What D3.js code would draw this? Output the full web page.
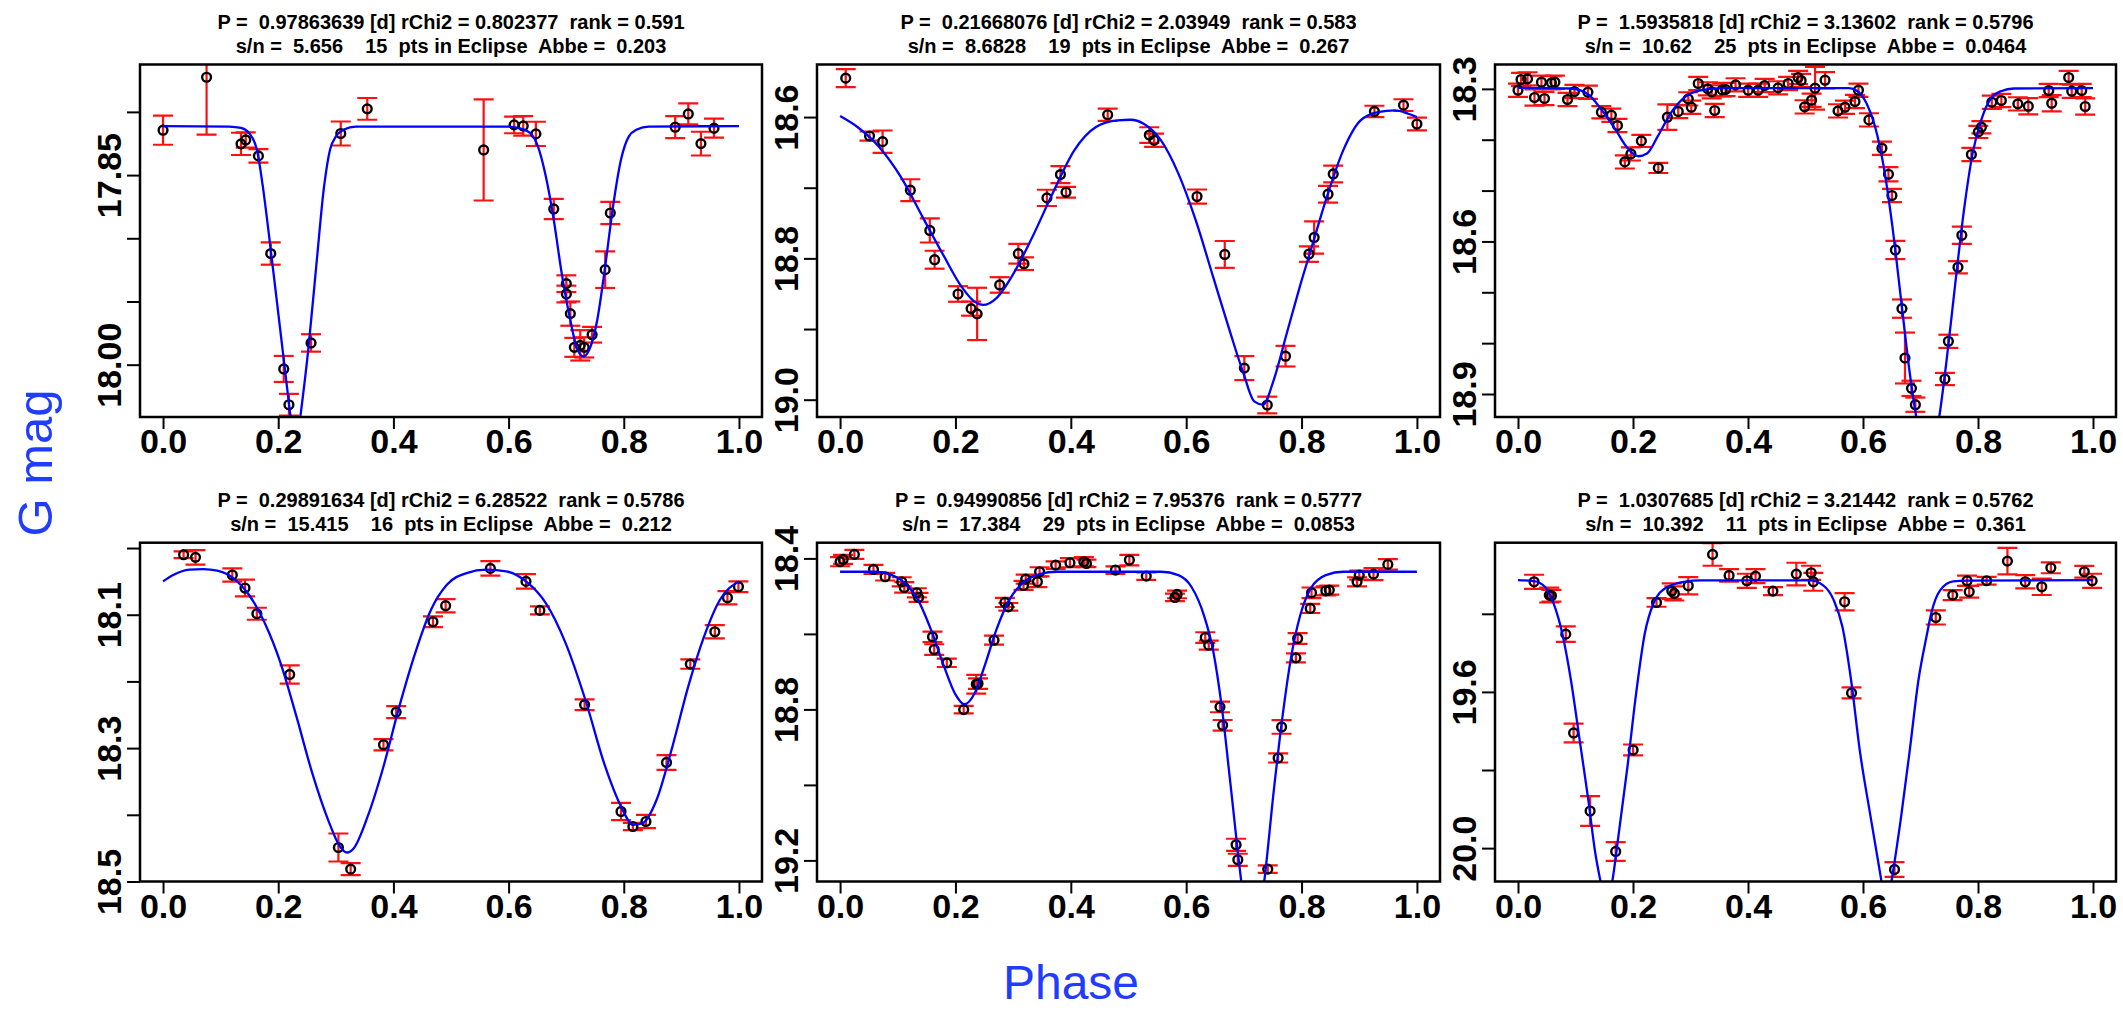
<!DOCTYPE html>
<html><head><meta charset="utf-8">
<script src="https://cdn.jsdelivr.net/npm/d3@7"></script>
<style>
body{margin:0;background:#fff;}
svg{display:block;}
text{font-family:"Liberation Sans",Arial,Helvetica,sans-serif;}
</style>
</head><body>
<svg id="chart" width="2123" height="1012"></svg>
<script>
// ---------------- DATA ----------------
const xTicks = [0, 0.2, 0.4, 0.6, 0.8, 1.0];
const xLabel = "Phase";
const yLabel = "G mag";

// Panel 1
const title1 = ["P =  0.97863639 [d] rChi2 = 0.802377  rank = 0.591", "s/n =  5.656    15  pts in Eclipse  Abbe =  0.203"];
const yTicks1 = [17.80, 17.85, 17.90, 17.95, 18.00];
const yLabeled1 = [17.85, 18.00];
const yRange1 = [17.7625, 18.0414];
const obs1 = [
 [0.000,17.8145,0.0115],[0.0756,17.7726,0.0454],[0.1354,17.8253,0.0088],[0.1436,17.8222,0.0060],
 [0.1656,17.8348,0.0053],[0.1870,17.9121,0.0088],[0.2096,18.0034,0.0103],[0.2186,18.0317,0.0086],
 [0.2570,17.9828,0.0069],[0.3086,17.8171,0.0095],[0.3546,17.7976,0.0086],[0.5567,17.8301,0.0400],
 [0.6096,17.8103,0.0066],[0.6254,17.8111,0.0077],[0.6474,17.8174,0.0096],[0.6784,17.8768,0.0080],
 [0.7003,17.9359,0.0066],[0.7003,17.9441,0.0066],[0.7072,17.9596,0.0096],[0.7141,17.9863,0.0075],
 [0.7244,17.9847,0.0120],[0.7313,17.9863,0.0080],[0.7450,17.9763,0.0062],[0.7677,17.9248,0.0145],
 [0.7766,17.8800,0.0088],[0.8893,17.8121,0.0087],[0.9120,17.8016,0.0083],[0.9340,17.8251,0.0094],
 [0.9567,17.8129,0.0075]
];
const fit1 = [
 [0.0,17.8113],[0.1148,17.8116],[0.1354,17.8127],[0.1491,17.8166],[0.1629,17.8298],[0.1732,17.8588],
 [0.1835,17.8958],[0.1973,17.9486],[0.2110,18.0013],[0.2213,18.0409],[0.2300,18.0700],[0.2385,18.0409],
 [0.2522,17.9881],[0.2660,17.9222],[0.2797,17.8588],[0.2900,17.8298],[0.3003,17.8193],[0.3141,17.8140],
 [0.3347,17.8116],[0.5959,17.8116],[0.6165,17.8127],[0.6371,17.8166],[0.6509,17.8272],[0.6646,17.8509],
 [0.6784,17.8852],[0.6921,17.9274],[0.7058,17.9617],[0.7196,17.9881],[0.7299,17.9934],[0.7402,17.9881],
 [0.7540,17.9644],[0.7677,17.9222],[0.7814,17.8747],[0.7952,17.8377],[0.8089,17.8193],[0.8227,17.8140],
 [0.8433,17.8116],[1.0,17.8113]
];

// Panel 2
const title2 = ["P =  0.21668076 [d] rChi2 = 2.03949  rank = 0.583", "s/n =  8.6828    19  pts in Eclipse  Abbe =  0.267"];
const yTicks2 = [18.6, 18.7, 18.8, 18.9, 19.0];
const yLabeled2 = [18.6, 18.8, 19.0];
const yRange2 = [18.5256, 19.0245];
const obs2 = [
 [0.0098,18.5449,0.0127],[0.0511,18.6268,0.0064],[0.0737,18.6348,0.0158],[0.1218,18.7035,0.0155],
 [0.1556,18.7605,0.0170],[0.1639,18.8019,0.0127],[0.2045,18.8504,0.0110],[0.2271,18.8711,0.0100],
 [0.2376,18.8786,0.0370],[0.2767,18.8376,0.0110],[0.3090,18.7934,0.0140],[0.3188,18.8075,0.0090],
 [0.3586,18.7144,0.0115],[0.3820,18.6814,0.0120],[0.3917,18.7064,0.0075],[0.4639,18.5967,0.0087],
 [0.5361,18.6254,0.0110],[0.5444,18.6329,0.0094],[0.6188,18.7125,0.0100],[0.6669,18.7944,0.0190],
 [0.7008,18.9553,0.0170],[0.7406,19.0075,0.0118],[0.7722,18.9384,0.0146],[0.8128,18.7939,0.0110],
 [0.8218,18.7704,0.0228],[0.8459,18.7092,0.0118],[0.8549,18.6805,0.0118],[0.9263,18.5920,0.0080],
 [0.9767,18.5831,0.0083],[1.0,18.6099,0.0090]
];
const fit2 = [
 [0.0,18.5986],[0.0301,18.6141],[0.0677,18.6424],[0.1053,18.6847],[0.1429,18.7412],[0.1805,18.7976],
 [0.2105,18.8400],[0.2331,18.8612],[0.2481,18.8659],[0.2707,18.8565],[0.3008,18.8212],[0.3308,18.7741],
 [0.3684,18.7082],[0.4060,18.6471],[0.4436,18.6141],[0.4812,18.6047],[0.5038,18.6038],[0.5263,18.6094],
 [0.5564,18.6329],[0.5865,18.6800],[0.6165,18.7459],[0.6466,18.8259],[0.6767,18.9059],[0.6992,18.9624],
 [0.7180,19.0024],[0.7331,19.0071],[0.7519,18.9718],[0.7744,18.9059],[0.7970,18.8400],[0.8195,18.7788],
 [0.8421,18.7176],[0.8722,18.6471],[0.9023,18.6047],[0.9323,18.5929],[0.9624,18.5906],[0.9850,18.5953],
 [1.0,18.6000]
];

// Panel 3
const title3 = ["P =  1.5935818 [d] rChi2 = 3.13602  rank = 0.5796", "s/n =  10.62    25  pts in Eclipse  Abbe =  0.0464"];
const yTicks3 = [18.3, 18.4, 18.5, 18.6, 18.7, 18.8, 18.9];
const yLabeled3 = [18.3, 18.6, 18.9];
const yRange3 = [18.2521, 18.9452];
const obs3 = [
 [0.0,18.3026,0.013],[0.0053,18.2816,0.013],[0.0166,18.2803,0.013],[0.0287,18.3170,0.016],
 [0.0408,18.2869,0.013],[0.0461,18.3190,0.013],[0.0582,18.2882,0.013],[0.0642,18.2869,0.013],
 [0.0861,18.3210,0.013],[0.0982,18.3052,0.013],[0.1216,18.3066,0.013],[0.1450,18.3459,0.012],
 [0.1624,18.3518,0.013],[0.1730,18.3721,0.013],[0.1858,18.4436,0.013],[0.1964,18.4279,0.013],
 [0.2145,18.4023,0.012],[0.2440,18.4554,0.010],[0.2598,18.3557,0.025],[0.2787,18.3446,0.013],
 [0.2961,18.3197,0.013],[0.3014,18.3361,0.013],[0.3134,18.2895,0.013],[0.3301,18.3000,0.013],
 [0.3369,18.3059,0.013],[0.3421,18.3426,0.013],[0.3550,18.3020,0.013],[0.3610,18.3013,0.013],
 [0.3784,18.2921,0.013],[0.4003,18.3026,0.013],[0.4177,18.3026,0.013],[0.4290,18.2934,0.013],
 [0.4524,18.2980,0.013],[0.4698,18.2895,0.013],[0.4872,18.2777,0.013],[0.4924,18.2836,0.013],
 [0.4985,18.3354,0.013],[0.5106,18.3223,0.013],[0.5166,18.2987,0.042],[0.5340,18.2830,0.016],
 [0.5566,18.3433,0.013],[0.5687,18.3361,0.013],[0.5861,18.3250,0.013],[0.5921,18.3026,0.013],
 [0.6103,18.3610,0.013],[0.6329,18.4167,0.013],[0.6443,18.4679,0.014],[0.6503,18.5098,0.013],
 [0.6563,18.6167,0.018],[0.6677,18.7321,0.018],[0.6730,18.8292,0.050],[0.6843,18.8889,0.015],
 [0.6911,18.9210,0.014],[0.7425,18.8705,0.012],[0.7485,18.7964,0.013],[0.7651,18.6508,0.012],
 [0.7719,18.5879,0.017],[0.7885,18.4292,0.013],[0.8006,18.3846,0.012],[0.8059,18.3754,0.012],
 [0.8240,18.3262,0.013],[0.8406,18.3230,0.013],[0.8693,18.3295,0.013],[0.8875,18.3341,0.016],
 [0.9230,18.3033,0.013],[0.9282,18.3282,0.016],[0.9577,18.2777,0.013],[0.9630,18.3046,0.013],
 [0.9804,18.3033,0.013],[0.9864,18.3348,0.016]
];
const fit3 = [
 [0.0,18.2980],[0.0921,18.2993],[0.1224,18.3111],[0.1450,18.3407],[0.1677,18.3767],[0.1903,18.4161],
 [0.2092,18.4325],[0.2243,18.4272],[0.2432,18.3931],[0.2659,18.3472],[0.2885,18.3177],[0.3187,18.3026],
 [0.3565,18.2987],[0.5755,18.2987],[0.5906,18.3046],[0.6057,18.3275],[0.6208,18.3734],[0.6359,18.4521],
 [0.6511,18.5702],[0.6662,18.7144],[0.6813,18.8587],[0.6926,18.9452],[0.7130,19.0500],[0.7326,18.9452],
 [0.7455,18.8325],[0.7606,18.6816],[0.7757,18.5374],[0.7908,18.4259],[0.8059,18.3603],[0.8210,18.3210],
 [0.8399,18.3046],[0.8625,18.2993],[1.0,18.2987]
];

// Panel 4
const title4 = ["P =  0.29891634 [d] rChi2 = 6.28522  rank = 0.5786", "s/n =  15.415    16  pts in Eclipse  Abbe =  0.212"];
const yTicks4 = [18.0, 18.1, 18.2, 18.3, 18.4, 18.5];
const yLabeled4 = [18.1, 18.3, 18.5];
const yRange4 = [17.992, 18.500];
const obs4 = [
 [0.0357,18.0100,0.0050],[0.0564,18.0140,0.0110],[0.1203,18.0405,0.0100],[0.1423,18.0600,0.0125],
 [0.1629,18.0985,0.0090],[0.2199,18.1895,0.0137],[0.3045,18.4490,0.0210],[0.3258,18.4815,0.0090],
 [0.3828,18.2950,0.0085],[0.4048,18.2460,0.0090],[0.4687,18.1105,0.0080],[0.4907,18.0865,0.0100],
 [0.5684,18.0305,0.0110],[0.6302,18.0500,0.0110],[0.6543,18.0935,0.0060],[0.7320,18.2350,0.0080],
 [0.7952,18.3950,0.0130],[0.8158,18.4175,0.0055],[0.8385,18.4100,0.0100],[0.8742,18.3215,0.0110],
 [0.9155,18.1740,0.0070],[0.9581,18.1255,0.0100],[0.9800,18.0745,0.0100],[0.9991,18.0580,0.0080]
];
const fit4 = [
 [0.0,18.0500],[0.0186,18.0400],[0.0460,18.0325],[0.0701,18.0315],[0.0942,18.0340],[0.1216,18.0450],
 [0.1491,18.0700],[0.1766,18.1125],[0.2041,18.1725],[0.2316,18.2525],[0.2591,18.3375],[0.2866,18.4075],
 [0.3072,18.4475],[0.3189,18.4565],[0.3313,18.4500],[0.3553,18.4025],[0.3828,18.3275],[0.4103,18.2375],
 [0.4378,18.1575],[0.4653,18.0925],[0.4928,18.0550],[0.5271,18.0375],[0.5615,18.0325],[0.5959,18.0350],
 [0.6302,18.0500],[0.6646,18.0825],[0.6990,18.1425],[0.7333,18.2275],[0.7677,18.3275],[0.7952,18.3875],
 [0.8158,18.4150],[0.8330,18.4125],[0.8570,18.3775],[0.8845,18.2975],[0.9120,18.2075],[0.9395,18.1325],
 [0.9670,18.0775],[1.0,18.0500]
];

// Panel 5
const title5 = ["P =  0.94990856 [d] rChi2 = 7.95376  rank = 0.5777", "s/n =  17.384    29  pts in Eclipse  Abbe =  0.0853"];
const yTicks5 = [18.4, 18.6, 18.8, 19.0, 19.2];
const yLabeled5 = [18.4, 18.8, 19.2];
const yRange5 = [18.3584, 19.2559];
const obs5 = [
 [0.0,18.4088,0.012],[0.0053,18.4027,0.012],[0.0248,18.3894,0.012],[0.0579,18.4292,0.012],
 [0.0782,18.4486,0.010],[0.1068,18.4619,0.012],[0.1113,18.4769,0.014],[0.1331,18.4911,0.012],
 [0.1361,18.5034,0.012],[0.1602,18.6078,0.014],[0.1632,18.6414,0.014],[0.1850,18.6767,0.011],
 [0.2143,18.8005,0.010],[0.2361,18.7333,0.025],[0.2391,18.7316,0.014],[0.2669,18.6166,0.012],
 [0.2857,18.5167,0.012],[0.2917,18.5282,0.010],[0.3180,18.4716,0.012],[0.3218,18.4548,0.012],
 [0.3421,18.4619,0.014],[0.3459,18.4354,0.012],[0.3737,18.4177,0.010],[0.3985,18.4115,0.012],
 [0.4226,18.4088,0.012],[0.4271,18.4133,0.010],[0.4774,18.4309,0.010],[0.5015,18.4044,0.014],
 [0.5308,18.4469,0.010],[0.5805,18.5034,0.010],[0.5842,18.4955,0.010],[0.6331,18.6096,0.014],
 [0.6391,18.6299,0.012],[0.6586,18.7935,0.014],[0.6632,18.8421,0.014],[0.6865,19.1586,0.016],
 [0.6895,19.1984,0.016],[0.7414,19.2232,0.010],[0.7594,18.9287,0.012],[0.7654,18.8465,0.018],
 [0.7902,18.6635,0.012],[0.7932,18.6122,0.014],[0.8150,18.5326,0.012],[0.8173,18.4911,0.014],
 [0.8421,18.4858,0.012],[0.8481,18.4840,0.012],[0.8962,18.4619,0.012],[0.9000,18.4442,0.012],
 [0.9248,18.4416,0.016],[0.9496,18.4159,0.014]
];
const fit5 = [
 [0.0,18.4354],[0.0602,18.4354],[0.0902,18.4442],[0.1128,18.4663],[0.1353,18.5105],[0.1579,18.5901],
 [0.1805,18.6874],[0.1992,18.7581],[0.2158,18.7864],[0.2331,18.7581],[0.2519,18.6785],[0.2707,18.5901],
 [0.2932,18.5105],[0.3158,18.4663],[0.3459,18.4416],[0.3759,18.4354],[0.5564,18.4354],[0.5865,18.4442],
 [0.6090,18.4751],[0.6316,18.5547],[0.6466,18.6432],[0.6617,18.7935],[0.6767,18.9968],[0.6955,19.2559],
 [0.7140,19.4500],[0.7353,19.2559],[0.7519,19.0145],[0.7669,18.8200],[0.7820,18.6608],[0.7970,18.5547],
 [0.8158,18.4796],[0.8421,18.4442],[0.8722,18.4354],[1.0,18.4354]
];

// Panel 6
const title6 = ["P =  1.0307685 [d] rChi2 = 3.21442  rank = 0.5762", "s/n =  10.392    11  pts in Eclipse  Abbe =  0.361"];
const yTicks6 = [19.4, 19.6, 19.8, 20.0];
const yLabeled6 = [19.6, 20.0];
const yRange6 = [19.2179, 20.0855];
const obs6 = [
 [0.0279,19.3180,0.018],[0.0544,19.3521,0.019],[0.0582,19.3538,0.015],[0.0831,19.4521,0.020],
 [0.0967,19.7051,0.024],[0.1254,19.9051,0.038],[0.1699,20.0085,0.024],[0.2002,19.7487,0.014],
 [0.2409,19.3709,0.011],[0.2674,19.3419,0.020],[0.2719,19.3479,0.018],[0.2961,19.3282,0.022],
 [0.3384,19.2479,0.029],[0.3671,19.3017,0.016],[0.3980,19.3154,0.018],[0.4131,19.3034,0.018],
 [0.4434,19.3419,0.010],[0.4841,19.2983,0.029],[0.5098,19.2949,0.018],[0.5136,19.3180,0.023],
 [0.5680,19.3692,0.022],[0.5801,19.6026,0.014],[0.6548,20.0547,0.019],[0.7266,19.4094,0.018],
 [0.7560,19.3521,0.013],[0.7810,19.3154,0.013],[0.7847,19.3436,0.015],[0.8150,19.3154,0.010],
 [0.8512,19.2650,0.034],[0.8822,19.3180,0.017],[0.9109,19.3308,0.021],[0.9267,19.2821,0.014],
 [0.9849,19.2923,0.015],[0.9985,19.3154,0.018]
];
const fit6 = [
 [0.0,19.3137],[0.0279,19.3162],[0.0468,19.3308],[0.0619,19.3735],[0.0770,19.4504],[0.0921,19.5701],
 [0.1073,19.7239],[0.1224,19.8778],[0.1337,20.0060],[0.1435,20.0855],[0.1526,20.1500],[0.1639,20.0855],
 [0.1752,19.9632],[0.1903,19.7923],[0.2054,19.6043],[0.2205,19.4504],[0.2356,19.3735],[0.2583,19.3325],
 [0.2885,19.3180],[0.3187,19.3145],[0.5076,19.3145],[0.5302,19.3265],[0.5491,19.3650],[0.5642,19.4333],
 [0.5793,19.5701],[0.5944,19.7496],[0.6133,19.9205],[0.6322,20.0855],[0.6410,20.1600],[0.6495,20.0855],
 [0.6662,19.9205],[0.6813,19.7496],[0.6964,19.5701],[0.7115,19.4504],[0.7190,19.3970],[0.7341,19.3400],
 [0.7568,19.3170],[0.7795,19.3150],[1.0,19.3137]
];

// ---------------- LAYOUT ----------------
const panels = [
 {title:title1, yTicks:yTicks1, yLab:yLabeled1, yDom:yRange1, obs:obs1, fit:fit1, dec:2, col:0, row:0},
 {title:title2, yTicks:yTicks2, yLab:yLabeled2, yDom:yRange2, obs:obs2, fit:fit2, dec:1, col:1, row:0},
 {title:title3, yTicks:yTicks3, yLab:yLabeled3, yDom:yRange3, obs:obs3, fit:fit3, dec:1, col:2, row:0},
 {title:title4, yTicks:yTicks4, yLab:yLabeled4, yDom:yRange4, obs:obs4, fit:fit4, dec:1, col:0, row:1},
 {title:title5, yTicks:yTicks5, yLab:yLabeled5, yDom:yRange5, obs:obs5, fit:fit5, dec:1, col:1, row:1},
 {title:title6, yTicks:yTicks6, yLab:yLabeled6, yDom:yRange6, obs:obs6, fit:fit6, dec:1, col:2, row:1}
];
const colX = [[140, 762], [817, 1440], [1495, 2116]];
const rowY = [[64.5, 417], [542.7, 881.5]];

const svg = d3.select("#chart");
svg.append("rect").attr("width",2123).attr("height",1012).attr("fill","#fff");
const defs = svg.append("defs");

panels.forEach((p, i) => {
  const [x0, x1] = colX[p.col], [y0, y1] = rowY[p.row];
  const x = d3.scaleLinear().domain([-0.04, 1.04]).range([x0, x1]);
  const y = d3.scaleLinear().domain(p.yDom).range([y0, y1]);

  defs.append("clipPath").attr("id", "clip" + i)
    .append("rect").attr("x", x0).attr("y", y0).attr("width", x1 - x0).attr("height", y1 - y0);
  const g = svg.append("g").attr("clip-path", `url(#clip${i})`);

  // error bars
  const eb = g.append("g").attr("stroke", "#ff1010").attr("stroke-width", 2.2).attr("fill", "none");
  p.obs.forEach(d => {
    const cx = x(d[0]), ya = y(d[1] - d[2]), yb = y(d[1] + d[2]);
    eb.append("line").attr("x1", cx).attr("x2", cx).attr("y1", ya).attr("y2", yb);
    eb.append("line").attr("x1", cx - 10).attr("x2", cx + 10).attr("y1", ya).attr("y2", ya);
    eb.append("line").attr("x1", cx - 10).attr("x2", cx + 10).attr("y1", yb).attr("y2", yb);
  });

  // points
  g.append("g").selectAll("circle").data(p.obs).join("circle")
    .attr("cx", d => x(d[0])).attr("cy", d => y(d[1])).attr("r", 4.4)
    .attr("fill", "none").attr("stroke", "#000").attr("stroke-width", 2.4);

  // fit curve
  g.append("path").datum(p.fit)
    .attr("d", d3.line().x(d => x(d[0])).y(d => y(d[1])).curve(d3.curveMonotoneX))
    .attr("fill", "none").attr("stroke", "#0000ff").attr("stroke-width", 2.3);

  // box
  svg.append("rect").attr("x", x0).attr("y", y0).attr("width", x1 - x0).attr("height", y1 - y0)
    .attr("fill", "none").attr("stroke", "#000").attr("stroke-width", 2.5);

  // x axis
  const gx = svg.append("g").attr("transform", `translate(0,${y1})`)
    .call(d3.axisBottom(x).tickValues(xTicks).tickSize(12).tickFormat(d => d.toFixed(1)));
  gx.select(".domain").remove();
  gx.selectAll("line").attr("stroke", "#000").attr("stroke-width", 2);
  gx.selectAll("text").attr("y", 36).attr("dy", 0)
    .attr("font-size", 34).attr("font-weight", "bold").attr("fill", "#000")
    .attr("font-family", '"Liberation Sans",Arial,Helvetica,sans-serif');

  // y axis
  const isLab = v => p.yLab.some(l => Math.abs(l - v) < 1e-9);
  const gy = svg.append("g").attr("transform", `translate(${x0},0)`)
    .call(d3.axisLeft(y).tickValues(p.yTicks).tickSize(13)
      .tickFormat(d => isLab(d) ? d.toFixed(p.dec) : ""));
  gy.select(".domain").remove();
  gy.selectAll("line").attr("stroke", "#000").attr("stroke-width", 2);
  gy.selectAll("text").attr("transform", "rotate(-90)").attr("x", 0).attr("y", -19).attr("dy", 0)
    .attr("text-anchor", "middle")
    .attr("font-size", 34).attr("font-weight", "bold").attr("fill", "#000")
    .attr("font-family", '"Liberation Sans",Arial,Helvetica,sans-serif');

  // title
  const cxT = (x0 + x1) / 2;
  p.title.forEach((t, k) => {
    svg.append("text").attr("x", cxT).attr("y", y0 - 36 + 24 * k)
      .attr("text-anchor", "middle").attr("font-size", 20).attr("font-weight", "bold")
      .style("white-space", "pre").attr("fill", "#000").text(t);
  });
});

// outer labels
svg.append("text").attr("transform", "translate(52,463) rotate(-90)")
  .attr("text-anchor", "middle").attr("font-size", 49).attr("fill", "#1f3cff").text(yLabel);
svg.append("text").attr("x", 1071).attr("y", 999)
  .attr("text-anchor", "middle").attr("font-size", 48).attr("fill", "#1f3cff").text(xLabel);
</script>
</body></html>
